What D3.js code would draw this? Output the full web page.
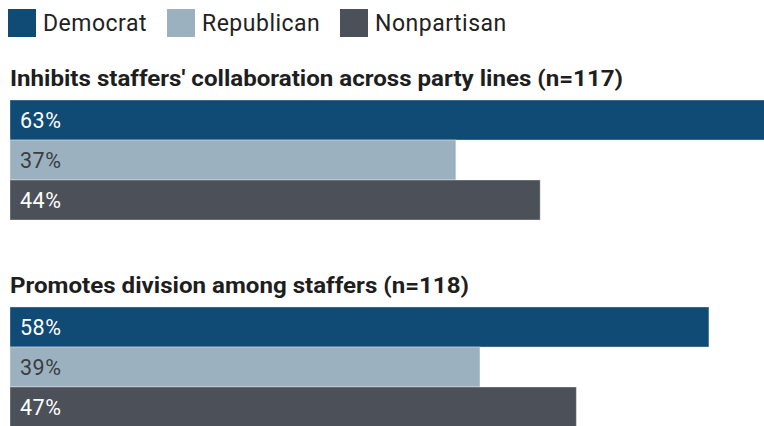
<!DOCTYPE html>
<html>
<head>
<meta charset="utf-8">
<script src="https://cdn.jsdelivr.net/npm/d3@7"></script>
<style>
  html, body { margin: 0; padding: 0; background: #fff; }
  svg { display: block; font-family: Roboto, "Noto Sans", sans-serif; }
</style>
</head>
<body>
<svg id="chart" width="764" height="426"></svg>
<script>
// Survey answers by staffer affiliation
const parties = ["Democrat", "Republican", "Nonpartisan"];
const questions = [
  "Inhibits staffers' collaboration across party lines (n=117)",
  "Promotes division among staffers (n=118)"
];
const inhibitsValues = [63, 37, 44];
const promotesValues = [58, 39, 47];

const partyColors = ["#104b76", "#9cb1c0", "#4c5159"];
const labelColors = ["#ffffff", "#3a3d42", "#ffffff"];

const groups = [
  { title: questions[0], values: inhibitsValues, titleWidth: 613 },
  { title: questions[1], values: promotesValues, titleWidth: 459 }
];

const svg = d3.select("#chart");

const x = d3.scaleLinear().domain([0, 100]).range([10, 1215]);
const barH = 40;
const groupTop = d3.scaleLinear().domain([0, 1]).range([100, 307]);

// Legend
const legendX = [8, 167, 340];
const legend = svg.append("g").selectAll("g")
  .data(parties)
  .join("g")
  .attr("transform", (d, i) => `translate(${legendX[i]},9)`);
legend.append("rect")
  .attr("width", 28).attr("height", 28)
  .attr("fill", (d, i) => partyColors[i]);
legend.append("text")
  .attr("x", 35).attr("y", 22)
  .attr("font-size", 23)
  .attr("letter-spacing", 0.5)
  .attr("fill", "#222")
  .text(d => d);

// Question groups
const g = svg.append("g").selectAll("g")
  .data(groups)
  .join("g")
  .attr("transform", (d, i) => `translate(0,${groupTop(i)})`);

g.append("text")
  .attr("x", 10).attr("y", -14)
  .attr("font-size", 22.5)
  .attr("font-weight", 700)
  .attr("fill", "#1e1e1e")
  .attr("textLength", d => d.titleWidth)
  .attr("lengthAdjust", "spacingAndGlyphs")
  .text(d => d.title);

const bars = g.selectAll("g.bar")
  .data(d => d.values.map((v, i) => ({ v, i })))
  .join("g")
  .attr("class", "bar")
  .attr("transform", d => `translate(0,${d.i * barH})`);

bars.append("rect")
  .attr("x", x(0))
  .attr("y", 0)
  .attr("width", d => x(d.v) - x(0))
  .attr("height", barH)
  .attr("fill", d => partyColors[d.i])
  .attr("stroke", "rgba(255,255,255,0.35)")
  .attr("stroke-width", 1);

bars.append("text")
  .attr("x", 20)
  .attr("y", 28)
  .attr("font-size", 21.5)
  .attr("letter-spacing", 0.5)
  .attr("fill", d => labelColors[d.i])
  .text(d => d.v + "%");
</script>
</body>
</html>
